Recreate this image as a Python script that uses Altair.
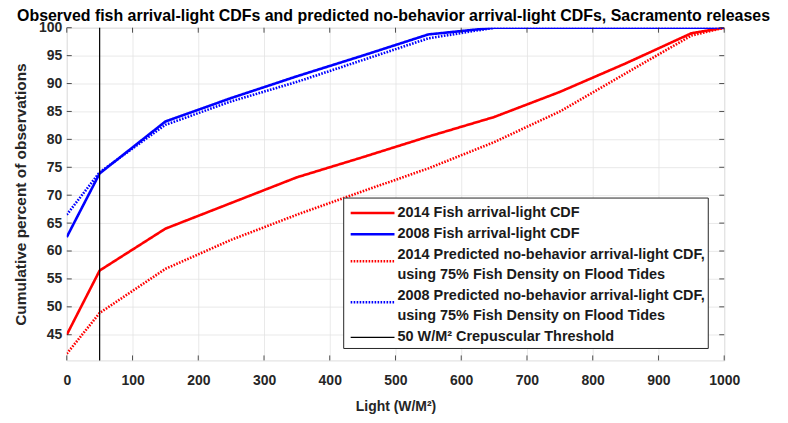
import altair as alt
import pandas as pd

# ---------------- data ----------------
light = [0, 50, 150, 250, 350, 450, 550, 650, 750, 850, 950, 1000]
fish_2014 = [45.0, 56.5, 64.0, 68.6, 73.2, 76.8, 80.5, 84.0, 88.5, 93.6, 99.0, 100.0]
fish_2008 = [62.5, 73.9, 83.2, 87.4, 91.3, 95.0, 98.8, 100.0, 100.0, 100.0, 100.0, 100.0]
pred_2014 = [41.6, 48.9, 56.8, 62.0, 66.5, 70.7, 74.8, 79.5, 85.0, 91.8, 98.6, 100.0]
pred_2008 = [66.5, 74.1, 82.6, 86.8, 90.3, 94.2, 98.1, 100.0, 100.0, 100.0, 100.0, 100.0]
threshold = [50]

series_names = [
    "2014 Fish arrival-light CDF",
    "2008 Fish arrival-light CDF",
    "2014 Predicted no-behavior arrival-light CDF, using 75% Fish Density on Flood Tides",
    "2008 Predicted no-behavior arrival-light CDF, using 75% Fish Density on Flood Tides",
]
legend_lines = [
    ["2014 Fish arrival-light CDF"],
    ["2008 Fish arrival-light CDF"],
    ["2014 Predicted no-behavior arrival-light CDF,", "using 75% Fish Density on Flood Tides"],
    ["2008 Predicted no-behavior arrival-light CDF,", "using 75% Fish Density on Flood Tides"],
    ["50 W/M\u00b2 Crepuscular Threshold"],
]
x_ticks = list(range(0, 1001, 100))
y_ticks = list(range(45, 101, 5))

TITLE = "Observed fish arrival-light CDFs and predicted no-behavior arrival-light CDFs, Sacramento releases"
X_TITLE = "Light (W/M\u00b2)"
Y_TITLE = "Cumulative percent of observations"

# ---------------- styling ----------------
colors = ["#ff0000", "#0000ff", "#ff0000", "#0000ff"]
dashes = [[1, 0], [1, 0], [1.6, 1.4], [1.6, 1.4]]
FONT = "Liberation Sans"
W, H = 660, 334
Y_MIN = 40.4
TXT = "#262626"

rows = []
for name, vals in zip(series_names, [fish_2014, fish_2008, pred_2014, pred_2008]):
    for x, y in zip(light, vals):
        rows.append({"series": name, "light": x, "pct": y})
df = pd.DataFrame(rows)

xscale = alt.Scale(domain=[0, 1000], nice=False, zero=False)
yscale = alt.Scale(domain=[Y_MIN, 100], nice=False, zero=False)

axis_font = dict(labelFont=FONT, labelFontSize=14, labelFontWeight="bold", labelColor=TXT,
                 titleFont=FONT, titleFontWeight="bold", titleColor=TXT,
                 gridColor="#e3e3e3", gridWidth=0.8, labelOverlap=False, labelBound=False,
                 labelFlush=False, grid=True, ticks=False, domain=False, format="d")

x_axis = alt.Axis(values=x_ticks, title=X_TITLE, labelPadding=13, titlePadding=12,
                  titleFontSize=14, **axis_font)
y_axis = alt.Axis(values=y_ticks, title=Y_TITLE, labelPadding=5, titlePadding=10,
                  titleFontSize=15.5, **axis_font)

xenc = alt.X("light:Q", scale=xscale, axis=x_axis)
yenc = alt.Y("pct:Q", scale=yscale, axis=y_axis)

lines = alt.Chart(df).mark_line(strokeWidth=2.6, clip=True).encode(
    x=xenc,
    y=yenc,
    color=alt.Color("series:N", scale=alt.Scale(domain=series_names, range=colors), legend=None),
    strokeDash=alt.StrokeDash("series:N", scale=alt.Scale(domain=series_names, range=dashes), legend=None),
)

thr = alt.Chart(pd.DataFrame({"light": threshold})).mark_rule(color="#000000", strokeWidth=1.2).encode(
    x=xenc
)

# inward ticks (MATLAB style) on all four sides
xt = pd.DataFrame({"light": x_ticks})
yt = pd.DataFrame({"pct": y_ticks})
tick_style = dict(color=TXT, strokeWidth=0.8)
ticks = [
    alt.Chart(xt).mark_rule(**tick_style).encode(x=xenc, y=alt.value(H), y2=alt.value(H - 5)),
    alt.Chart(xt).mark_rule(**tick_style).encode(x=xenc, y=alt.value(0), y2=alt.value(5)),
    alt.Chart(yt).mark_rule(**tick_style).encode(y=yenc, x=alt.value(0), x2=alt.value(5)),
    alt.Chart(yt).mark_rule(**tick_style).encode(y=yenc, x=alt.value(W), x2=alt.value(W - 5)),
]

# title as a text mark so it can extend over the full page width
title = alt.Chart(pd.DataFrame({"t": [TITLE]})).mark_text(
    align="center", baseline="alphabetic", font=FONT, fontSize=16, fontWeight="bold", color="#000000"
).encode(text="t:N", x=alt.value(328), y=alt.value(-6.5))

# ---------------- custom legend ----------------
one = pd.DataFrame({"a": [0]})
LX0, LX1, LY0, LY1 = 278, 644, 171, 322
legend_layers = [
    alt.Chart(one).mark_rect(fill="white", stroke=TXT, strokeWidth=1).encode(
        x=alt.value(LX0), x2=alt.value(LX1), y=alt.value(LY0), y2=alt.value(LY1))
]
leg_colors = colors + ["#000000"]
leg_dashes = dashes + [[1, 0]]
leg_widths = [2.6, 2.6, 2.6, 2.6, 1.2]
text_y = 186
row_h = 19.8
for i, lines_txt in enumerate(legend_lines):
    n = len(lines_txt)
    sample_y = text_y + (n - 1) * row_h / 2 + (-4 if n > 1 else 0)
    legend_layers.append(
        alt.Chart(one).mark_rule(color=leg_colors[i], strokeWidth=leg_widths[i], strokeDash=leg_dashes[i]).encode(
            x=alt.value(285), x2=alt.value(329), y=alt.value(sample_y), y2=alt.value(sample_y))
    )
    for t in lines_txt:
        legend_layers.append(
            alt.Chart(pd.DataFrame({"t": [t]})).mark_text(
                align="left", baseline="middle", font=FONT, fontSize=14.5, fontWeight="bold", color="#1a1a1a"
            ).encode(text="t:N", x=alt.value(332), y=alt.value(text_y))
        )
        text_y += row_h
    text_y += 1.5

chart = alt.layer(lines, thr, *ticks, *legend_layers, title).properties(
    width=W, height=H,
    autosize=alt.AutoSizeParams(type="none"),
    padding={"left": 59, "top": 19, "right": 56, "bottom": 55},
).configure_view(
    stroke=TXT, strokeWidth=1
).configure(background="white")

chart.save("out.html", embed_options={"renderer": "svg", "actions": False})
